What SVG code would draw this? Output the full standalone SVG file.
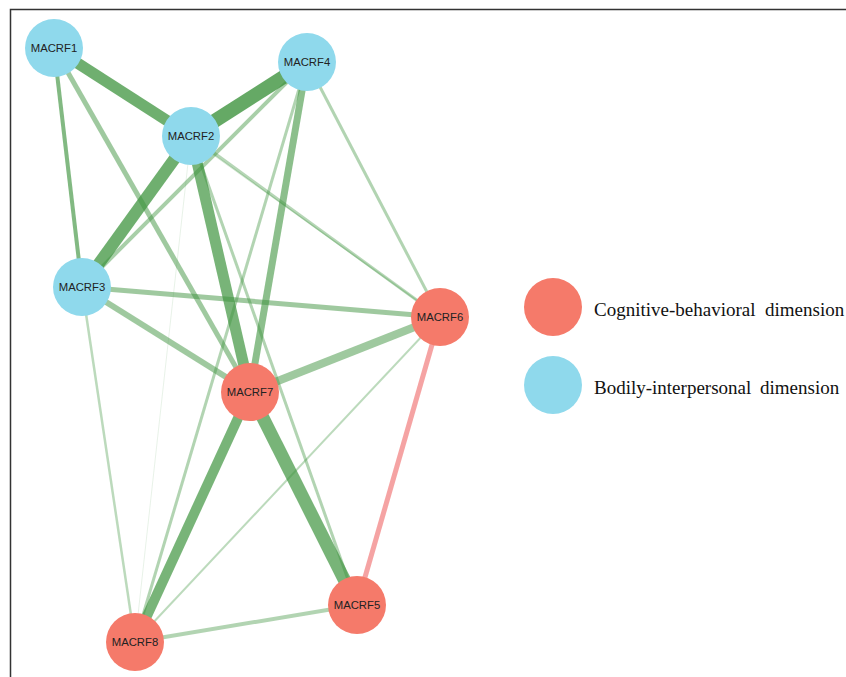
<svg xmlns="http://www.w3.org/2000/svg" width="846" height="677" viewBox="0 0 846 677">
<style>
.e{stroke:#3f943f;stroke-linecap:butt;fill:none}
.neg{stroke:#f28c8c;fill:none}
.b{fill:#8fd9ec}
.r{fill:#f57a6a}
.lbl{font-family:"Liberation Sans",Arial,sans-serif;font-size:11.3px;fill:#222;text-anchor:middle}
.leg{font-family:"Liberation Serif","Times New Roman",serif;font-size:19px;fill:#111}
</style>
<rect x="0" y="0" width="846" height="677" fill="#fff"/>
<rect x="10.5" y="9.5" width="900" height="800" fill="none" stroke="#333" stroke-width="1.5"/>
<g id="connectors">
<line class="e" x1="191" y1="136" x2="135" y2="642" stroke-width="1" stroke-opacity="0.12"/>
<line class="e" x1="82" y1="287" x2="135" y2="642" stroke-width="2.5" stroke-opacity="0.35"/>
<line class="e" x1="440" y1="317" x2="135" y2="642" stroke-width="2" stroke-opacity="0.35"/>
<line class="e" x1="307" y1="62" x2="135" y2="642" stroke-width="3" stroke-opacity="0.4"/>
<line class="e" x1="307" y1="62" x2="440" y2="317" stroke-width="3" stroke-opacity="0.4"/>
<line class="e" x1="191" y1="136" x2="440" y2="317" stroke-width="3" stroke-opacity="0.38"/>
<line class="e" x1="196" y1="142" x2="440" y2="317" stroke-width="1.5" stroke-opacity="0.3"/>
<line class="e" x1="191" y1="136" x2="357" y2="605" stroke-width="3" stroke-opacity="0.4"/>
<line class="e" x1="135" y1="642" x2="357" y2="605" stroke-width="4" stroke-opacity="0.4"/>
<line class="e" x1="307" y1="62" x2="82" y2="287" stroke-width="4" stroke-opacity="0.45"/>
<line class="e" x1="82" y1="287" x2="440" y2="317" stroke-width="5" stroke-opacity="0.5"/>
<line class="e" x1="82" y1="287" x2="250" y2="392" stroke-width="6" stroke-opacity="0.5"/>
<line class="e" x1="54" y1="48" x2="250" y2="392" stroke-width="5" stroke-opacity="0.5"/>
<line class="e" x1="54" y1="48" x2="82" y2="287" stroke-width="4" stroke-opacity="0.65"/>
<line class="e" x1="440" y1="317" x2="250" y2="392" stroke-width="8" stroke-opacity="0.5"/>
<line class="e" x1="307" y1="62" x2="250" y2="392" stroke-width="7" stroke-opacity="0.6"/>
<line class="e" x1="250" y1="392" x2="135" y2="642" stroke-width="10" stroke-opacity="0.7"/>
<line class="e" x1="250" y1="392" x2="357" y2="605" stroke-width="13" stroke-opacity="0.7"/>
<line class="e" x1="191" y1="136" x2="250" y2="392" stroke-width="11" stroke-opacity="0.7"/>
<line class="e" x1="191" y1="136" x2="82" y2="287" stroke-width="12" stroke-opacity="0.75"/>
<line class="e" x1="54" y1="48" x2="191" y2="136" stroke-width="11" stroke-opacity="0.75"/>
<line class="e" x1="191" y1="136" x2="307" y2="62" stroke-width="14" stroke-opacity="0.8"/>
<line class="neg" x1="440" y1="317" x2="357" y2="605" stroke-width="5" stroke-opacity="0.8"/>
</g>
<g id="MACRF1"><circle class="b" cx="54" cy="48" r="29"/><text class="lbl" x="54" y="52">MACRF1</text></g>
<g id="MACRF2"><circle class="b" cx="191" cy="136" r="29"/><text class="lbl" x="191" y="140">MACRF2</text></g>
<g id="MACRF3"><circle class="b" cx="82" cy="287" r="29"/><text class="lbl" x="82" y="291">MACRF3</text></g>
<g id="MACRF4"><circle class="b" cx="307" cy="62" r="29"/><text class="lbl" x="307" y="66">MACRF4</text></g>
<g id="MACRF5"><circle class="r" cx="357" cy="605" r="29"/><text class="lbl" x="357" y="609">MACRF5</text></g>
<g id="MACRF6"><circle class="r" cx="440" cy="317" r="29"/><text class="lbl" x="440" y="321">MACRF6</text></g>
<g id="MACRF7"><circle class="r" cx="250" cy="392" r="29"/><text class="lbl" x="250" y="396">MACRF7</text></g>
<g id="MACRF8"><circle class="r" cx="135" cy="642" r="29"/><text class="lbl" x="135" y="646">MACRF8</text></g>
<g id="legend">
<circle class="r" cx="553" cy="307" r="29"/>
<text class="leg" y="316"><tspan x="594">Cognitive-behavioral</tspan><tspan x="765">dimension</tspan></text>
<circle class="b" cx="553" cy="385" r="29"/>
<text class="leg" y="394"><tspan x="594">Bodily-interpersonal</tspan><tspan x="760">dimension</tspan></text>
</g>
</svg>
